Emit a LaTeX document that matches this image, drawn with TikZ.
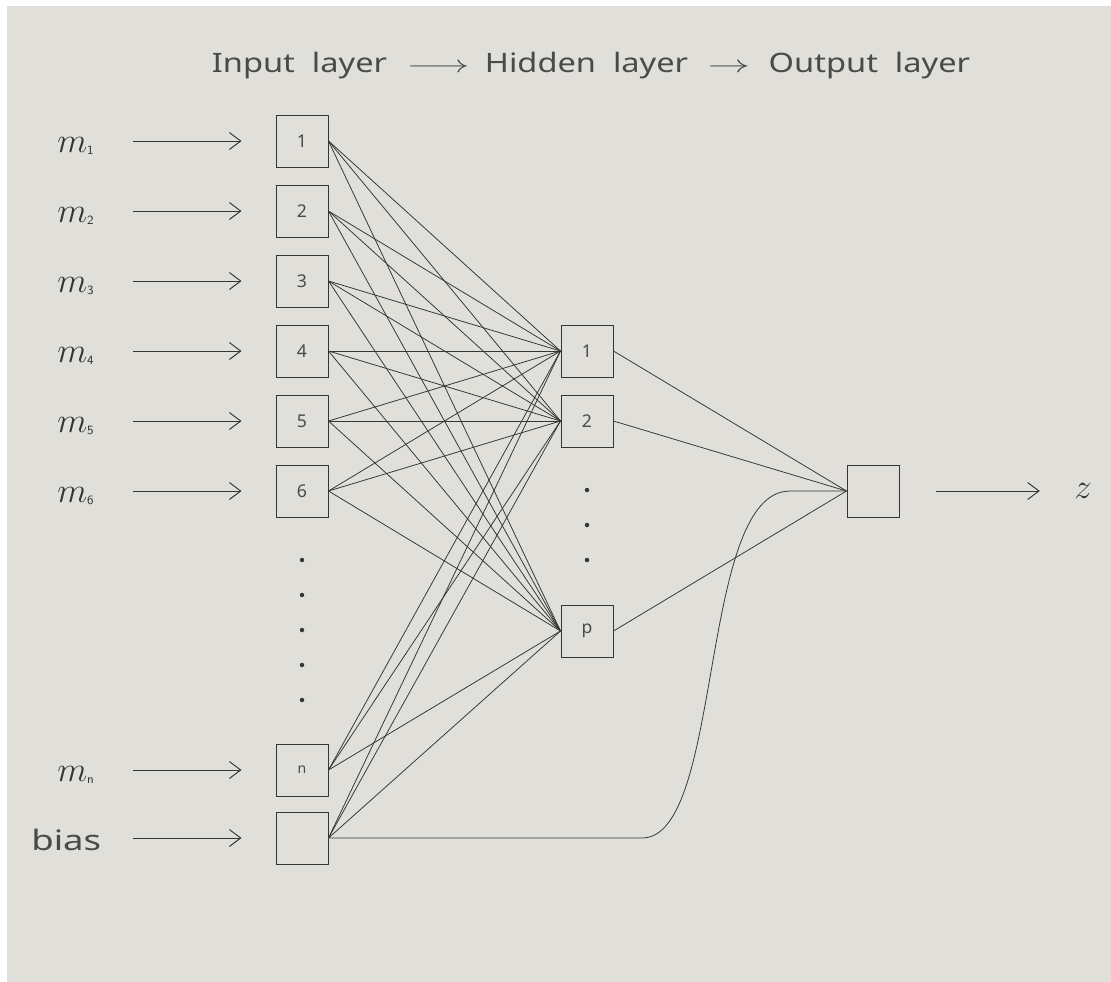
\documentclass[tikz,border=0pt]{standalone}
\usepackage{fontspec}
\setmainfont{Noto Sans}
\usetikzlibrary{arrows.meta}
\definecolor{bg}{HTML}{E0DFD9}
\definecolor{ink}{HTML}{353535}
\definecolor{txt}{HTML}{4A4A4A}
\newcommand{\wide}[1]{\scalebox{1.22}[1]{#1}}
\begin{document}
\begin{tikzpicture}[x=0.025cm,y=-0.025cm,
  unit/.style={draw=ink, line width=0.7pt, minimum width=1.3cm, minimum height=1.3cm, inner sep=0pt, font=\fontsize{12.5}{14}\selectfont, text=txt},
  wire/.style={ink, line width=0.55pt},
  inarrow/.style={ink, line width=0.7pt, -{Straight Barb[length=8pt,width=12pt,line width=0.7pt]}},
  lbl/.style={font=\fontsize{25}{30}\selectfont, text=ink, inner sep=0pt},
  dotmark/.style={circle, fill=ink, inner sep=0pt, minimum size=3.2pt}]
\useasboundingbox (0,0) rectangle (1111,981);
\fill[white] (-5,-5) rectangle (1120,990);
\fill[bg] (7,6) rectangle (1120,990);

% title
\node[font=\fontsize{19}{23}\selectfont, text=txt, anchor=base, inner sep=0pt] (title) at (591,72)
  {\wide{Input\ \ layer}\hspace{14pt}\scalebox{1.6}[1]{$\longrightarrow$}\hspace{11pt}\wide{Hidden\ \ layer}\hspace{14pt}\scalebox{1.75}[1]{$\rightarrow$}\hspace{13pt}\wide{Output\ \ layer}};

% input units
\node[unit] (i1) at (302,141) {1};
\node[unit] (i2) at (302,211) {2};
\node[unit] (i3) at (302,281) {3};
\node[unit] (i4) at (302,351) {4};
\node[unit] (i5) at (302,421) {5};
\node[unit] (i6) at (302,491) {6};
\node[unit] (in) at (302,770) {\fontsize{10}{10}\selectfont n};
\node[unit] (ib) at (302,838) {};

% hidden units
\node[unit] (h1) at (587,351) {1};
\node[unit] (h2) at (587,421) {2};
\node[unit] (hp) at (587,631) {p};

% output unit
\node[unit] (o) at (873,491) {};

% dots
\foreach \yy [count=\k] in {560,595,630,665,700} \node[dotmark] (vd\k) at (302,\yy) {};
\foreach \yy [count=\k] in {490,525,560} \node[dotmark] (hd\k) at (587,\yy) {};

% labels
\node[lbl, anchor=base west] (m1) at (57,152) {$m$\raisebox{-2pt}{\sffamily\fontsize{9}{9}\selectfont 1}};
\node[lbl, anchor=base west] (m2) at (57,222) {$m$\raisebox{-2pt}{\sffamily\fontsize{9}{9}\selectfont 2}};
\node[lbl, anchor=base west] (m3) at (57,292) {$m$\raisebox{-2pt}{\sffamily\fontsize{9}{9}\selectfont 3}};
\node[lbl, anchor=base west] (m4) at (57,362) {$m$\raisebox{-2pt}{\sffamily\fontsize{9}{9}\selectfont 4}};
\node[lbl, anchor=base west] (m5) at (57,432) {$m$\raisebox{-2pt}{\sffamily\fontsize{9}{9}\selectfont 5}};
\node[lbl, anchor=base west] (m6) at (57,502) {$m$\raisebox{-2pt}{\sffamily\fontsize{9}{9}\selectfont 6}};
\node[lbl, anchor=base west] (mn) at (57,781) {$m$\raisebox{-2pt}{\sffamily\fontsize{9}{9}\selectfont n}};
\node[font=\fontsize{20}{24}\selectfont, text=txt, anchor=base west, inner sep=0pt] (bias) at (31,850) {\scalebox{1.3}[1]{bias}};
\node[lbl] (z) at (1083,491) {$z$};

% input arrows
\foreach \n/\yy in {i1/141,i2/211,i3/281,i4/351,i5/421,i6/491,in/770,ib/838}{
  \coordinate (s\n) at (133,\yy);
  \draw[inarrow, shorten >=0.85cm] (s\n) -- (\n.west);
}
% output arrow
\draw[inarrow, shorten <=0.9cm, shorten >=0.88cm] (o.east) -- (z.west -| 1075,491);

% input -> hidden
\foreach \a in {i1,i2,i3,i4,i5,i6,in,ib}
  \foreach \b in {h1,h2,hp}
    \draw[wire] (\a.east) -- (\b.west);

% hidden -> output
\foreach \b in {h1,h2,hp}
  \draw[wire] (\b.east) -- (o.west);

% bias -> output
\draw[wire] (ib.east) -- (642,838) .. controls (724,838) and (698,491) .. (790,491) -- (o.west);
\end{tikzpicture}
\end{document}
